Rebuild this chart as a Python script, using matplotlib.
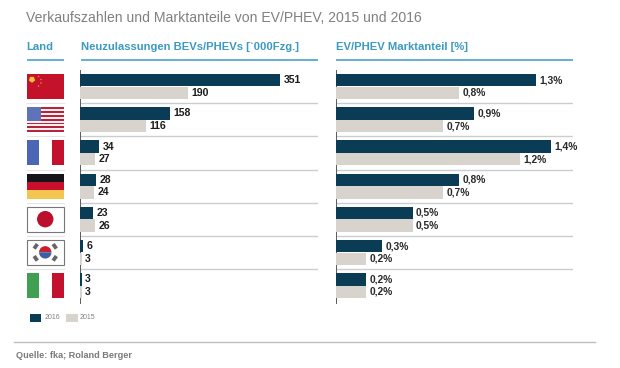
import matplotlib
matplotlib.use("Agg")
import matplotlib.pyplot as plt
from matplotlib.patches import Rectangle, Circle, Wedge, RegularPolygon

countries = ["China", "USA", "Frankreich", "Deutschland", "Japan", "Südkorea", "Italien"]
reg_2016 = [351, 158, 34, 28, 23, 6, 3]
reg_2015 = [190, 116, 27, 24, 26, 3, 3]
share_2016 = [1.3, 0.9, 1.4, 0.8, 0.5, 0.3, 0.2]
share_2015 = [0.8, 0.7, 1.2, 0.7, 0.5, 0.2, 0.2]
share_labels_2016 = ["1,3%", "0,9%", "1,4%", "0,8%", "0,5%", "0,3%", "0,2%"]
share_labels_2015 = ["0,8%", "0,7%", "1,2%", "0,7%", "0,5%", "0,2%", "0,2%"]
series_names = ["2016", "2015"]

DARK = "#0b3c55"
LIGHT = "#d9d3cd"
SEP = "#c9cdd1"
TEAL = "#3b9ac2"
GREY = "#808080"
W, H = 620, 368
plt.rcParams["font.family"] = ["Liberation Sans", "DejaVu Sans"]

fig = plt.figure(figsize=(W / 100, H / 100), dpi=100, facecolor="white")

PITCH = 33.17
CY = 86.6
BAR_H = 12.4 / PITCH
TOP, BOT = 70, 303


def panel(x0, x1, px_per_unit, a, b, la, lb, size, weight, pad, tcol):
    ax = fig.add_axes([x0 / W, 1 - BOT / H, (x1 - x0) / W, (BOT - TOP) / H])
    ax.set_xlim(0, (x1 - x0) / px_per_unit)
    ax.set_ylim((BOT - CY) / PITCH, (TOP - CY) / PITCH)
    ys = list(range(len(a)))
    ax.barh([y - 0.19 for y in ys], a, height=BAR_H, color=DARK, linewidth=0, zorder=3)
    ax.barh([y + 0.19 for y in ys], b, height=BAR_H, color=LIGHT, linewidth=0, zorder=3)
    for y, v, t, w in zip(ys, a, la, b):
        ax.text(v + pad / px_per_unit, y - 0.19, t, va="center", ha="left",
                fontsize=size, fontweight=weight, color=tcol, clip_on=False)
        ax.text(w + pad / px_per_unit, y + 0.19, lb[y], va="center", ha="left",
                fontsize=size, fontweight=weight, color=tcol, clip_on=False)
    ax.hlines([y + 0.5 for y in ys[:-1]], 0, (x1 - x0) / px_per_unit, color=SEP, lw=1)
    for s in ("top", "right", "bottom"):
        ax.spines[s].set_visible(False)
    ax.spines["left"].set_color("#5a5a5a")
    ax.spines["left"].set_linewidth(0.7)
    ax.spines["left"].set_zorder(2)
    ax.set_xticks([])
    ax.set_yticks([])
    ax.patch.set_alpha(0)


panel(80, 318, 0.57, reg_2016, reg_2015, [str(v) for v in reg_2016],
      [str(v) for v in reg_2015], 7.6, "bold", 3.5, "#1c1c1c")
panel(335.5, 573, 154, share_2016, share_2015, share_labels_2016, share_labels_2015,
      7.4, "bold", 3.5, "#2a2a2a")

# overlay in pixel coordinates: headings, flags, legend, footer
ov = fig.add_axes([0, 0, 1, 1])
ov.set_xlim(0, W)
ov.set_ylim(H, 0)
ov.axis("off")
ov.patch.set_alpha(0)

ov.text(26, 18.5, "Verkaufszahlen und Marktanteile von EV/PHEV, 2015 und 2016",
        fontsize=10.1, color=GREY, va="center", ha="left")
for x, t in [(26.5, "Land"), (81, "Neuzulassungen BEVs/PHEVs [`000Fzg.]"),
             (336, "EV/PHEV Marktanteil [%]")]:
    ov.text(x, 47, t, fontsize=8.1, fontweight="bold", color=TEAL, va="center", ha="left")
for x0, x1 in [(26.5, 63.5), (81, 318), (336, 573)]:
    ov.plot([x0, x1], [59.5, 59.5], color=TEAL, lw=1.1, solid_capstyle="butt")

FX0, FX1, FH = 26.5, 64, 25
FW = FX1 - FX0


def rect(x, y, w, h, c, z=2, **kw):
    ov.add_patch(Rectangle((x, y), w, h, facecolor=c, edgecolor="none", zorder=z, **kw))


def vtri(y, cols):
    for i, c in enumerate(cols):
        rect(FX0 + i * FW / 3, y, FW / 3, FH, c)


for i in range(len(countries) - 1):
    ov.plot([FX0, FX1], [CY + (i + 0.5) * PITCH] * 2, color="#e4e6e8", lw=0.8)

tops = [CY - 12.6 + i * PITCH for i in range(len(countries))]

# China
y = tops[0]
rect(FX0, y, FW, FH, "#c4122a")
ov.add_patch(RegularPolygon((32, y + 5.5), 5, radius=3.3, facecolor="#f3c33c", edgecolor="none", zorder=3))
for dx, dy in [(38.5, 2.5), (41, 5.5), (41, 9), (38.5, 12)]:
    ov.add_patch(RegularPolygon((dx, y + dy), 5, radius=0.9, facecolor="#e0883a", edgecolor="none", zorder=3))

# USA
y = tops[1]
for s in range(13):
    rect(FX0, y + s * FH / 13, FW, FH / 13, "#b5243c" if s % 2 == 0 else "#f7eef0")
rect(FX0, y, 14.5, FH * 7 / 13, "#5f74b8", z=3)

# France
vtri(tops[2], ["#4a66b4", "#ffffff", "#c2122e"])

# Germany
y = tops[3]
for i, c in enumerate(["#16161a", "#c8102e", "#f2c651"]):
    rect(FX0, y + i * FH / 3, FW, FH / 3, c)

# Japan
y = tops[4]
ov.add_patch(Rectangle((FX0, y), FW, FH, facecolor="white", edgecolor="#77777a", lw=0.8, zorder=2))
ov.add_patch(Circle((FX0 + FW / 2, y + FH / 2), 8.2, facecolor="#bb0f2c", edgecolor="none", zorder=3))

# South Korea
y = tops[5]
cx, cy = FX0 + FW / 2, y + FH / 2
ov.add_patch(Rectangle((FX0, y), FW, FH, facecolor="white", edgecolor="#77777a", lw=0.8, zorder=2))
ov.add_patch(Wedge((cx, cy), 6.2, 180, 360, facecolor="#c8202f", edgecolor="none", zorder=3))
ov.add_patch(Wedge((cx, cy), 6.2, 0, 180, facecolor="#3a5ea8", edgecolor="none", zorder=3))
for dx, dy, ang in [(-9.5, -6, 35), (9.5, -6, -35), (-9.5, 6, -35), (9.5, 6, 35)]:
    ov.add_patch(Rectangle((cx + dx - 1.9, cy + dy - 2.8), 3.8, 5.6, angle=ang, rotation_point="center",
                           facecolor="#66666a", edgecolor="none", zorder=3))

# Italy
vtri(tops[6], ["#3f9f52", "#ffffff", "#c2122e"])

# legend
rect(29.5, 313.5, 11.5, 8, DARK)
rect(66, 313.5, 11.5, 8, LIGHT)
ov.text(44.5, 317.5, series_names[0], fontsize=5, color=GREY, va="center", ha="left")
ov.text(80, 317.5, series_names[1], fontsize=5, color=GREY, va="center", ha="left")

# footer
ov.plot([14, 595], [342, 342], color="#bdbdbd", lw=1)
ov.text(15.5, 355, "Quelle: fka; Roland Berger", fontsize=6.6, fontweight="bold",
        color="#7a7a7a", va="center", ha="left")

fig.savefig("out.png", dpi=100, facecolor="white")
